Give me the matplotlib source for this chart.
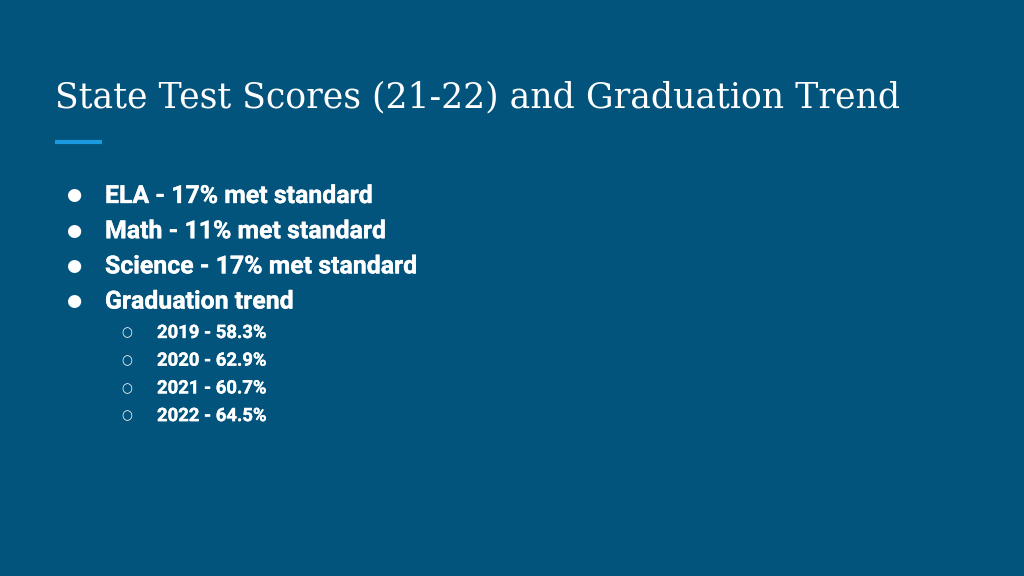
import matplotlib
matplotlib.use("Agg")
import matplotlib.pyplot as plt
import matplotlib.patheffects as pe

title = "State Test Scores (21-22) and Graduation Trend"
subjects = ["ELA", "Math", "Science"]
met_standard = [17, 11, 17]
grad_years = ["2019", "2020", "2021", "2022"]
grad_rates = [58.3, 62.9, 60.7, 64.5]

BG = "#03547c"
ACCENT = "#1a9ae0"

fig = plt.figure(figsize=(10.24, 5.76), dpi=100, facecolor=BG)
ax = fig.add_axes([0, 0, 1, 1])
ax.set_xlim(0, 1024)
ax.set_ylim(576, 0)
ax.axis("off")
ax.set_facecolor(BG)

ax.text(55, 107.5, title, fontsize=24.9, family="DejaVu Serif", fontweight="light",
        color="white", va="baseline", ha="left")
ax.plot([55, 102], [141.5, 141.5], color=ACCENT, lw=3, solid_capstyle="butt")

thick = [pe.withStroke(linewidth=0.25, foreground="white")]

main_lines = [f"{s} - {v}% met standard" for s, v in zip(subjects, met_standard)]
main_lines.append("Graduation trend")
y0 = 203
for i, line in enumerate(main_lines):
    y = y0 + i * 35.2
    ax.text(73.5, y - 7.5, "\u25cf", fontsize=12.5, family="DejaVu Sans", color="white",
            ha="center", va="center")
    ax.text(105, y, line, fontsize=17.9, family="Roboto", fontweight="bold",
            color="white", ha="left", va="baseline", path_effects=thick)

ys = 338
for i, (yr, r) in enumerate(zip(grad_years, grad_rates)):
    y = ys + i * 27.7
    ax.text(127, y - 5, "\u25cb", fontsize=9, family="DejaVu Sans", color="white",
            ha="center", va="center")
    ax.text(157, y, f"{yr} - {r}%", fontsize=13.3, family="Roboto", fontweight="bold",
            color="white", ha="left", va="baseline", path_effects=thick)

fig.savefig("out.png", dpi=100, facecolor=BG)
